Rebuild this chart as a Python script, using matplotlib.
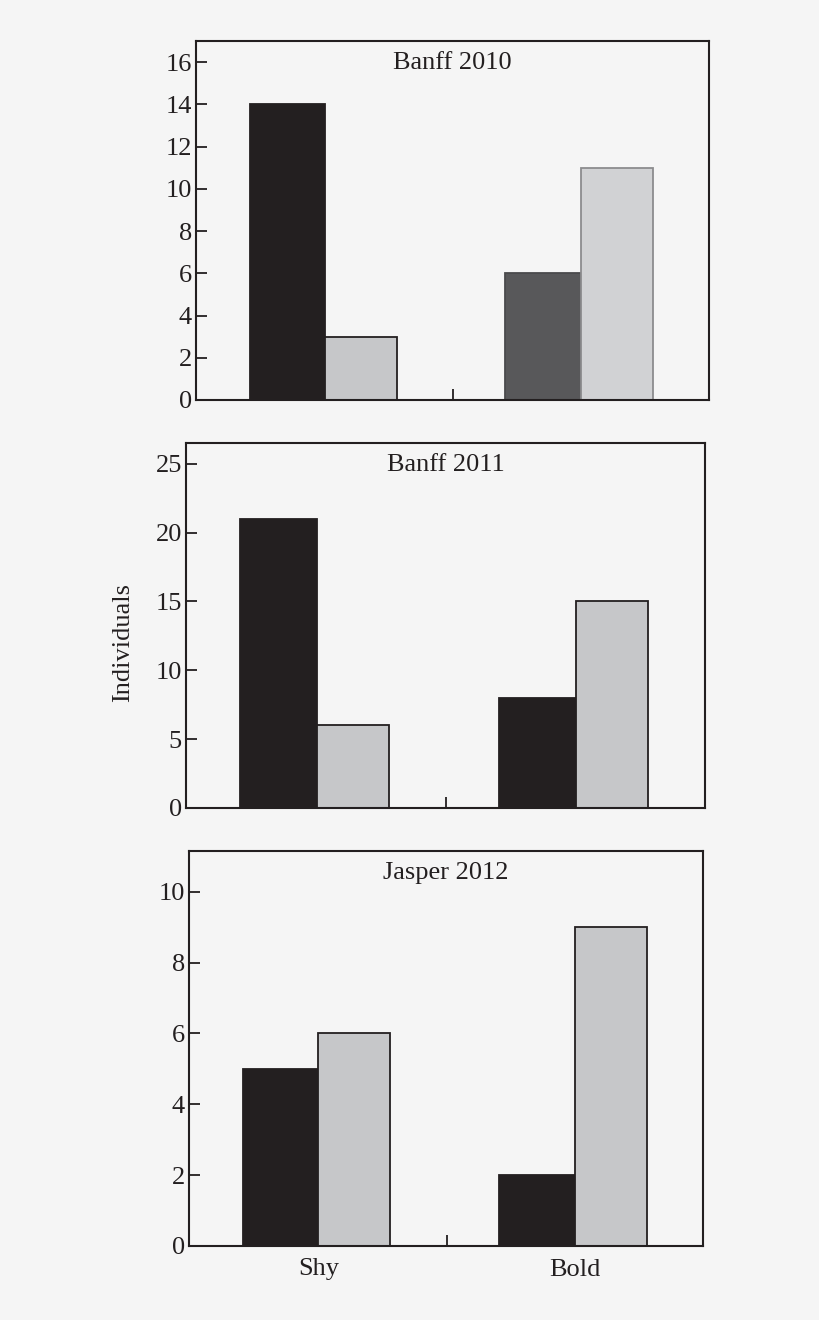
import numpy as np
import matplotlib
matplotlib.use("Agg")
import matplotlib.pyplot as plt

plt.rcParams.update({
    "font.family": "Liberation Serif",
    "font.size": 19,
})

# --- data ---
groups = ["Shy", "Bold"]
titles = ["Banff 2010", "Banff 2011", "Jasper 2012"]
dark_vals = [[14, 6], [21, 8], [5, 2]]
light_vals = [[3, 11], [6, 15], [6, 9]]
ylims = [17.0, 26.5, 11.15]
yticks = [np.arange(0, 17, 2), np.arange(0, 26, 5), np.arange(0, 11, 2)]

# colores por barra (panel, grupo)
dark_colors = [["#231f20", "#58585a"], ["#231f20", "#231f20"], ["#231f20", "#231f20"]]
dark_edges = [["#231f20", "#4a4a4c"], ["#231f20", "#231f20"], ["#231f20", "#231f20"]]
light_colors = [["#c6c7c9", "#d1d2d4"], ["#c6c7c9", "#c6c7c9"], ["#c6c7c9", "#c6c7c9"]]
light_edges = [["#231f20", "#8c8c8e"], ["#231f20", "#231f20"], ["#231f20", "#231f20"]]

bg = "#f5f5f5"
W, H = 820, 1320
# posiciones en pixeles: left, top, right, bottom
boxes = [(196, 41, 709, 400), (186, 443, 705, 808), (189, 851, 703, 1246)]
title_y = [0.939, 0.94, 0.945]

fig = plt.figure(figsize=(W / 100, H / 100), dpi=100, facecolor=bg)

x = np.arange(len(groups))
w_dark, w_light = 0.295, 0.28

for i, (l, t, r, b) in enumerate(boxes):
    ax = fig.add_axes([l / W, 1 - b / H, (r - l) / W, (b - t) / H])
    ax.set_facecolor(bg)

    ax.bar(x, dark_vals[i], width=-w_dark, align="edge",
           color=dark_colors[i], edgecolor=dark_edges[i], linewidth=1.3)
    ax.bar(x, light_vals[i], width=w_light, align="edge",
           color=light_colors[i], edgecolor=light_edges[i], linewidth=1.3)

    ax.set_xlim(-0.504, 1.5)
    ax.set_ylim(0, ylims[i])
    ax.set_yticks(yticks[i])

    ax.set_xticks(x)
    ax.set_xticks([0.5], minor=True)
    ax.tick_params(axis="x", which="major", length=0, pad=9)
    ax.tick_params(axis="x", which="minor", direction="in", length=8, width=1.3, color="#231f20")
    ax.tick_params(axis="y", direction="in", length=8, width=1.3, color="#231f20",
                   labelcolor="#231f20", pad=3)
    if i == 2:
        ax.set_xticklabels(groups, color="#231f20")
    else:
        ax.set_xticklabels([])

    for sp in ax.spines.values():
        sp.set_linewidth(1.5)
        sp.set_color("#231f20")

    ax.text(0.5, title_y[i], titles[i], transform=ax.transAxes,
            ha="center", va="center", color="#231f20")

fig.text(123 / W, 1 - 642 / H, "Individuals", rotation=90,
         ha="center", va="center", color="#231f20")

fig.savefig("out.png", dpi=100, facecolor=bg)
